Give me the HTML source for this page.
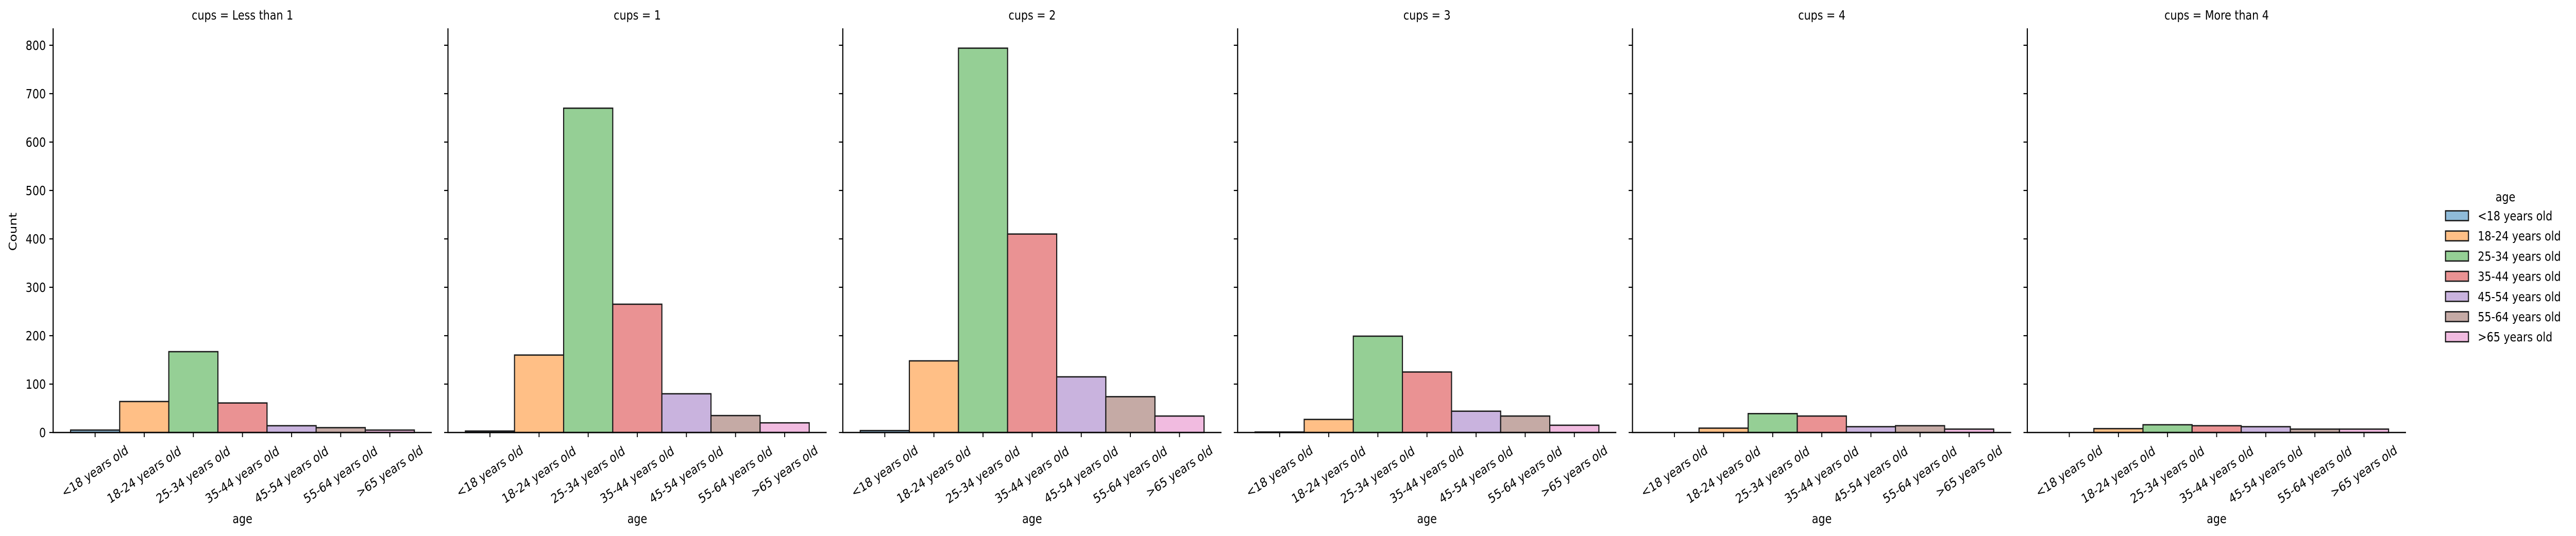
<!DOCTYPE html>
<html><head><meta charset="utf-8">
<style>
html,body{margin:0;padding:0;background:#fff;width:100%;height:100%;overflow:hidden;}
svg{display:block;font-family:"DejaVu Sans","Liberation Sans",sans-serif;width:100vw;height:100vh;}
</style></head>
<body>
<svg id="chart" viewBox="0 0 6061 1041" preserveAspectRatio="none" xmlns="http://www.w3.org/2000/svg"></svg>
<script>
const categories = ["<18 years old","18-24 years old","25-34 years old","35-44 years old","45-54 years old","55-64 years old",">65 years old"];
const facets = ["Less than 1","1","2","3","4","More than 4"];
const countsLess1 = [5,64,167,61,14,10,5];
const counts1 = [3,160,670,265,80,35,20];
const counts2 = [4,148,794,410,115,74,34];
const counts3 = [1,27,199,125,44,34,15];
const counts4 = [0,9,39,34,12,14,7];
const countsMore4 = [0,8,16,14,12,7,7];
const yTicks = [0,100,200,300,400,500,600,700,800];
const colors = ["#8fbbd9","#ffbf86","#95cf95","#ea9293","#c9b3de","#c5aaa5","#f1bbe0"];
const series = [countsLess1,counts1,counts2,counts3,counts4,countsMore4];

const NS="http://www.w3.org/2000/svg";
const svg=document.getElementById('chart');
function mk(tag,attrs,parent){const e=document.createElementNS(NS,tag);for(const k in attrs)e.setAttribute(k,attrs[k]);(parent||svg).appendChild(e);return e;}

const panelLeft0=125, panelStep=929, panelW=891;
const yTop=55, y0=840, yMaxVal=835;
function yScale(v){return y0-(v/yMaxVal)*(y0-yTop);}
const xMin=-0.855, xMax=6.855;
function xScale(p,i){return panelLeft0+p*panelStep+(i-xMin)/(xMax-xMin)*panelW;}

facets.forEach((f,p)=>{
  const g=mk('g',{});
  
  
  const L=panelLeft0+p*panelStep;
  const t=mk('text',{x:L+panelW/2,y:38,'text-anchor':'middle','font-size':25,fill:'#000'},g);
  t.textContent='cups = '+f;
  
  
  series[p].forEach((v,i)=>{
    const x1=xScale(p,i-0.5), x2=xScale(p,i+0.5);
    const r=mk('rect',{x:x1,y:yScale(v),width:x2-x1,height:y0-yScale(v),fill:colors[i],stroke:'#1a1a1a','stroke-width':2.6},g);
    
    
  });
  const sp=mk('path',{d:`M${L} ${yTop} V${y0} H${L+panelW}`,stroke:'#000','stroke-width':2.6,fill:'none'},g);
  
  
  yTicks.forEach(tv=>{
    const y=yScale(tv);
    mk('line',{x1:L-9,x2:L,y1:y,y2:y,stroke:'#000','stroke-width':2.2},g);
    if(p===0){
      const tl=mk('text',{x:L-17,y:y+9,'text-anchor':'end','font-size':25,fill:'#000'},g);
      tl.textContent=tv;
      
      
    }
  });
  categories.forEach((c,i)=>{
    const x=xScale(p,i);
    mk('line',{x1:x,x2:x,y1:y0,y2:y0+9,stroke:'#000','stroke-width':2.2},g);
    const len=c.length*13.2;
    const h=len*0.5+29*0.866;
    const cy=861+h/2;
    const tl=mk('text',{x:0,y:0,'text-anchor':'middle','dominant-baseline':'central','font-size':25,fill:'#000',transform:`translate(${x},${cy}) rotate(-30)`},g);
    tl.textContent=c;
    
    
  });
  const xl=mk('text',{x:L+panelW/2,y:1016,'text-anchor':'middle','font-size':25,fill:'#000'},g);
  xl.textContent='age';
  
  
});
const yl=mk('text',{x:0,y:0,'text-anchor':'middle','font-size':25,fill:'#000',transform:'translate(39,450) rotate(-90)'});
yl.textContent='Count';



const lg=mk('g',{});


const lt=mk('text',{x:5895,y:391,'text-anchor':'middle','font-size':25,fill:'#000'},lg);
lt.textContent='age';


categories.forEach((c,i)=>{
  const cy=419+i*39.2;
  const r=mk('rect',{x:5754,y:cy-9.5,width:54,height:19,fill:colors[i],stroke:'#1a1a1a','stroke-width':2.6},lg);
  
  
  const t=mk('text',{x:5830,y:cy+9,'font-size':25,fill:'#000'},lg);
  t.textContent=c;
  
  
});
</script>
</body></html>
